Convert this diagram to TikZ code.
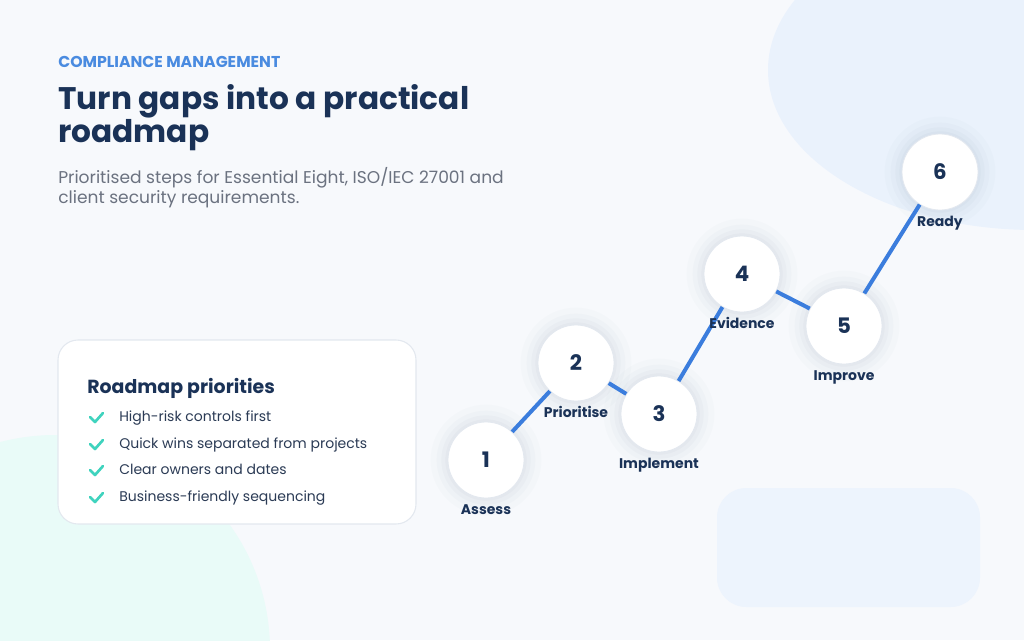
\documentclass[tikz,border=0pt]{standalone}
\usepackage{fontspec}
\setmainfont{Poppins}
\usetikzlibrary{arrows.meta, positioning}

\definecolor{navy}{HTML}{1A3257}
\definecolor{accent}{HTML}{4A8BE0}
\definecolor{linkblue}{HTML}{3B7DDD}
\definecolor{subgray}{HTML}{6B7280}
\definecolor{bgpaper}{HTML}{F7F9FC}
\definecolor{blobblue}{HTML}{EAF2FC}
\definecolor{blobmint}{HTML}{E9FBF8}
\definecolor{panelblue}{HTML}{EDF4FD}
\definecolor{tickteal}{HTML}{3FD3BE}
\definecolor{ringgray}{HTML}{E3E8EF}
\definecolor{itemtext}{HTML}{2B3B55}
\definecolor{halo}{HTML}{6A7E9C}

\begin{document}
\begin{tikzpicture}[x=0.75pt, y=-0.75pt,
    softhalo/.style={preaction={draw=halo, draw opacity=#1, fill opacity=0}},
    stepcircle/.style={circle, fill=white, draw=ringgray, line width=0.6pt,
      minimum size=57pt, inner sep=0pt, text=navy,
      font=\bfseries\fontsize{16}{18}\selectfont,
      preaction={draw=halo, draw opacity=0.025, line width=26pt},
      preaction={draw=halo, draw opacity=0.03, line width=17pt},
      preaction={draw=halo, draw opacity=0.035, line width=10pt},
      preaction={draw=halo, draw opacity=0.04, line width=4pt}},
    steplabel/.style={anchor=base, text=navy, font=\bfseries\fontsize{10.5}{12}\selectfont},
    link/.style={linkblue, line width=3pt},
    item/.style={anchor=base west, inner sep=0pt, text=itemtext, font=\fontsize{10.5}{13}\selectfont},
    tick/.style={tickteal, line width=2pt, line cap=round, line join=round}
  ]
    % Canvas and background shapes
    \useasboundingbox (0,0) rectangle (1024,640);
    \fill[bgpaper] (0,0) rectangle (1024,640);
    \fill[blobblue] (1035,70) ellipse [x radius=267, y radius=160];
    \fill[blobmint] (55,650) circle (215);
    \fill[panelblue, rounded corners=22pt] (717,488) rectangle (980,607);

    % Heading block
    \node[anchor=base west, inner sep=0pt, text=accent, font=\bfseries\fontsize{11.8}{14}\selectfont]
      (kicker) at (58,67) {COMPLIANCE MANAGEMENT};
    \node[anchor=base west, text=navy, align=left, inner sep=0pt,
      font=\bfseries\fontsize{23.4}{22.5}\selectfont]
      (title) at (58,142) {Turn gaps into a practical\\roadmap};
    \node[anchor=base west, text=subgray, align=left, inner sep=0pt,
      font=\fontsize{12.8}{15}\selectfont]
      (subtitle) at (58,203) {Prioritised steps for Essential Eight, ISO/IEC 27001 and\\client security requirements.};

    % Priorities card
    \draw[fill=white, draw=ringgray, line width=0.8pt, rounded corners=15pt]
      (58,340) rectangle (416,524);
    \node[anchor=base west, inner sep=0pt, text=navy, font=\bfseries\fontsize{14.2}{17}\selectfont]
      (cardtitle) at (87,393) {Roadmap priorities};
    \foreach \y/\txt in {421/High-risk controls first,
                         448/Quick wins separated from projects,
                         474/Clear owners and dates,
                         501/Business-friendly sequencing} {
      \draw[tick] (90,\y-4) -- (95,\y+1) -- (103,\y-8);
      \node[item] at (119,\y) {\txt};
    }

    % Roadmap steps
    \node[stepcircle] (s1) at (486,460) {1};
    \node[stepcircle] (s2) at (576,363) {2};
    \node[stepcircle] (s3) at (659,414) {3};
    \node[stepcircle] (s4) at (742,274) {4};
    \node[stepcircle] (s5) at (844,326) {5};
    \node[stepcircle] (s6) at (940,172) {6};

    % Connections between steps
    \draw[link] (s1) -- (s2);
    \draw[link] (s2) -- (s3);
    \draw[link] (s3) -- (s4);
    \draw[link] (s4) -- (s5);
    \draw[link] (s5) -- (s6);

    % Step names
    \node[steplabel] (l1) at ([yshift=-41pt]s1.center) {Assess};
    \node[steplabel] (l2) at ([yshift=-41pt]s2.center) {Prioritise};
    \node[steplabel] (l3) at ([yshift=-41pt]s3.center) {Implement};
    \node[steplabel] (l4) at ([yshift=-41pt]s4.center) {Evidence};
    \node[steplabel] (l5) at ([yshift=-41pt]s5.center) {Improve};
    \node[steplabel] (l6) at ([yshift=-41pt]s6.center) {Ready};
\end{tikzpicture}
\end{document}
